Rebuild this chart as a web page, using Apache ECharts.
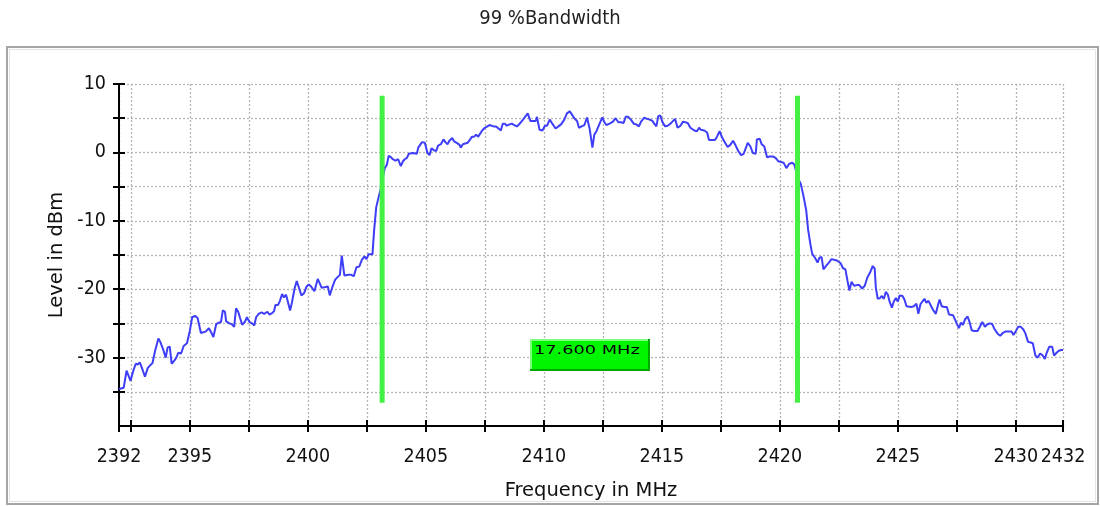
<!DOCTYPE html>
<html><head><meta charset="utf-8">
<script src="https://cdn.jsdelivr.net/npm/echarts@6/dist/echarts.min.js"></script>
<style>html,body{margin:0;padding:0;background:#fff}#c{width:1100px;height:506px}</style>
</head><body><div id="c"></div>
<script>
const freq = [
2392.0,2392.2,2392.32,2392.4,2392.49,2392.6,2392.71,2392.8,2392.88,2392.99,2393.1,2393.22,2393.33,2393.42,2393.53,2393.67,2393.75,2393.87,2393.98,2394.06,2394.15,2394.23,2394.35,2394.43,2394.51,2394.63,2394.74,2394.88,2395.0,2395.1,2395.22,2395.33,2395.47,2395.67,2395.81,2395.92,2396.0,2396.12,2396.23,2396.32,2396.4,2396.49,2396.54,2396.68,2396.77,2396.88,2396.96,2397.05,2397.13,2397.22,2397.33,2397.42,2397.53,2397.64,2397.73,2397.81,2397.92,2398.04,2398.15,2398.2,2398.29,2398.37,2398.49,2398.57,2398.63,2398.74,2398.82,2398.91,2398.99,2399.08,2399.16,2399.25,2399.33,2399.44,2399.53,2399.61,2399.73,2399.84,2399.95,2400.04,
2400.14,2400.28,2400.42,2400.59,2400.71,2400.85,2400.93,2401.05,2401.16,2401.36,2401.44,2401.55,2401.72,2401.84,2401.95,2402.06,2402.18,2402.29,2402.4,2402.49,2402.57,2402.74,
2402.81,2402.9,2403.01,2403.09,2403.18,2403.26,2403.35,2403.43,2403.52,2403.6,2403.71,2403.83,2403.94,2404.03,2404.11,2404.2,2404.28,2404.36,2404.45,2404.53,2404.62,2404.68,2404.76,2404.84,2404.96,2405.01,2405.07,2405.16,2405.24,2405.35,2405.44,2405.52,2405.64,2405.75,2405.83,2405.92,2406.0,2406.12,2406.2,2406.31,2406.43,2406.48,2406.57,2406.65,2406.77,2406.88,2406.96,2407.05,2407.13,2407.22,2407.3,2407.39,2407.5,2407.61,2407.7,2407.78,2407.87,2407.98,2408.06,2408.18,2408.26,2408.35,2408.43,2408.55,
2408.64,2408.75,2408.86,2408.98,2409.12,2409.2,2409.32,2409.43,2409.54,2409.66,2409.71,2409.82,2409.94,2410.05,2410.14,2410.25,2410.36,2410.5,2410.62,2410.73,2410.87,2410.98,2411.1,2411.18,2411.29,2411.41,2411.49,2411.6,2411.72,2411.83,2411.94,2412.06,2412.14,2412.23,2412.31,2412.4,2412.48,2412.57,2412.65,2412.79,2412.93,2413.04,2413.16,2413.27,2413.38,2413.47,2413.58,2413.69,2413.81,2413.92,2414.03,2414.12,2414.26,2414.37,2414.49,2414.6,2414.68,2414.77,2414.85,2414.94,2415.02,2415.14,2415.25,2415.36,2415.45,2415.56,2415.67,2415.79,2415.9,2415.98,2416.1,2416.21,2416.38,2416.49,2416.58,2416.66,2416.8,2416.92,2417.0,2417.14,2417.25,2417.34,2417.45,2417.54,2417.65,2417.79,2417.9,2418.02,2418.13,2418.24,2418.36,2418.47,2418.64,2418.75,2418.86,2418.98,2419.03,2419.15,2419.23,2419.34,2419.46,2419.57,2419.71,2419.82,2419.94,2420.05,2420.16,2420.28,2420.39,2420.53,2420.62,2420.76,
2420.89,2421.01,2421.12,2421.2,2421.29,2421.37,2421.49,2421.6,2421.68,2421.77,2421.85,2421.96,2422.08,2422.19,2422.3,2422.42,2422.5,2422.58,2422.67,2422.78,2422.87,2422.95,2423.04,2423.15,2423.26,2423.37,2423.49,2423.6,2423.71,2423.82,2423.94,2424.02,
2424.07,2424.15,2424.24,2424.32,2424.41,2424.49,2424.58,2424.66,2424.75,2424.83,2424.92,2425.0,2425.08,2425.2,2425.28,2425.37,2425.45,2425.56,2425.68,2425.79,2425.87,2425.96,2426.04,2426.13,2426.21,2426.3,2426.38,2426.49,2426.61,2426.69,2426.77,2426.86,2426.97,2427.08,2427.17,2427.25,2427.34,2427.42,2427.51,2427.59,2427.68,2427.76,2427.85,2427.96,2428.04,2428.13,2428.24,2428.38,2428.46,2428.58,2428.69,2428.77,2428.89,2429.0,2429.11,2429.23,2429.34,2429.45,2429.56,2429.7,2429.82,2429.9,2429.99,2430.1,2430.21,2430.32,2430.41,2430.52,2430.63,2430.72,2430.83,2430.92,2431.03,2431.14,2431.23,2431.31,2431.42,2431.54,2431.62,2431.73,2431.82,2431.93,2432.0
];
const level = [
-34.6,-34.4,-31.9,-31.7,-33.4,-32.0,-30.9,-31.0,-30.7,-31.7,-32.8,-31.5,-31.1,-30.8,-29.0,-27.2,-27.7,-28.8,-30.0,-28.5,-28.4,-30.9,-30.4,-30.0,-29.3,-29.4,-28.3,-27.9,-26.1,-24.1,-23.9,-24.2,-26.4,-26.2,-25.7,-26.4,-27.0,-25.1,-24.9,-24.8,-23.1,-23.3,-24.7,-25.0,-25.1,-25.5,-22.8,-23.3,-24.2,-25.2,-24.8,-24.1,-24.8,-25.0,-25.3,-24.1,-23.6,-23.4,-23.6,-23.8,-23.3,-23.7,-23.5,-23.2,-22.3,-22.3,-21.7,-20.7,-21.2,-20.8,-21.0,-23.1,-21.9,-19.9,-18.8,-18.9,-20.9,-20.6,-19.6,-19.3,
-19.6,-20.3,-18.5,-19.8,-19.7,-19.6,-20.9,-19.6,-18.6,-17.9,-15.1,-18.0,-17.9,-17.9,-18.1,-16.8,-16.7,-15.7,-15.2,-15.6,-14.9,-14.9,
-11.4,-8.0,-6.4,-5.4,-3.7,-2.3,-1.8,-0.5,-0.7,-1.0,-1.2,-1.0,-2.0,-1.3,-1.0,-0.8,-0.2,-0.4,-0.1,0.1,-0.2,0.7,1.1,1.5,1.4,1.4,-0.1,-0.4,0.6,0.3,0.2,1.0,1.2,1.9,1.5,1.2,1.7,2.1,1.6,1.4,1.1,0.7,1.2,1.0,1.4,1.9,2.3,2.3,2.6,2.3,2.4,3.2,3.6,3.8,4.0,3.8,3.8,3.8,3.8,3.2,4.2,4.2,3.9,4.1,
4.2,4.0,3.8,4.2,4.8,4.7,5.7,4.6,4.6,4.6,5.2,3.3,3.2,3.9,3.9,4.8,4.2,3.5,3.8,4.1,4.8,5.7,6.0,5.6,5.0,4.6,3.6,3.8,4.0,5.1,3.5,0.7,2.6,3.1,3.3,4.5,5.1,4.4,4.0,4.2,4.5,5.0,4.4,4.4,4.3,5.2,5.2,4.8,4.2,4.1,3.8,4.5,5.1,4.9,4.8,4.6,4.2,3.8,5.3,5.4,4.5,3.8,3.9,4.2,4.5,4.9,3.6,3.9,4.5,4.6,4.3,3.6,3.2,3.1,3.6,3.3,3.2,2.9,1.8,1.8,1.8,2.3,3.1,2.3,1.6,0.8,1.1,1.7,1.0,0.2,-0.4,-0.2,1.4,0.9,-0.1,-0.2,1.9,2.0,1.2,0.9,-0.7,-0.6,-0.6,-0.8,-1.3,-1.4,-1.5,-2.3,-1.7,-1.5,-1.8,-3.7,
-4.6,-6.5,-8.5,-11.3,-13.3,-14.8,-15.4,-16.1,-15.4,-15.3,-17.1,-16.6,-16.1,-15.6,-15.7,-15.8,-15.6,-16.2,-16.9,-17.1,-18.8,-20.2,-18.9,-19.5,-19.4,-19.4,-19.9,-19.5,-18.3,-17.6,-16.6,-17.0,
-19.8,-21.4,-21.3,-21.0,-21.4,-20.4,-20.8,-21.9,-22.7,-21.8,-21.3,-21.8,-20.9,-21.0,-21.5,-22.5,-22.3,-22.6,-22.5,-22.1,-23.6,-22.2,-21.8,-21.4,-22.0,-21.7,-21.9,-23.0,-23.6,-22.5,-21.5,-22.5,-22.6,-22.6,-23.7,-23.5,-23.8,-24.4,-25.1,-25.7,-24.9,-25.2,-24.4,-24.0,-24.8,-26.0,-26.1,-26.1,-25.6,-24.8,-25.5,-25.2,-25.0,-25.1,-25.9,-26.5,-26.8,-26.4,-26.2,-26.2,-26.2,-26.7,-26.2,-25.5,-25.5,-25.9,-26.5,-27.7,-27.8,-27.9,-29.7,-30.0,-29.4,-29.7,-30.2,-29.3,-28.4,-28.4,-29.7,-29.3,-29.0,-28.9,-28.9
];
const markerFreqs = [2403.15, 2420.75];
const markerRange = [8.3, -36.6];
const bandwidthText = '17.600 MHz';
const bandwidthBoxLevel = -29.6;
const xTickValues = [2392,2392.5,2395,2397.5,2400,2402.5,2405,2407.5,2410,2412.5,2415,2417.5,2420,2422.5,2425,2427.5,2430,2432];
const xLabelValues = [2392,2395,2400,2405,2410,2415,2420,2425,2430,2432];
const yTickValues = [-35,-30,-25,-20,-15,-10,-5,0,5,10];
const yLabelValues = [-30,-20,-10,0,10];

const NARROW = "'Liberation Sans Narrow','DejaVu Sans Condensed',sans-serif";
const SANS = "'DejaVu Sans',sans-serif";
const gridStyle = {type:[2,2], color:'#b4b4b4', width:1.3};
const axisBlack = {color:'#000', width:2};
const plain = v => String(v);

const chart = echarts.init(document.getElementById('c'), null, {renderer:'canvas'});
const trace = freq.map((f,i)=>[f, level[i]]);
const markerSeries = markerFreqs.map(f => ({
  type:'line', symbol:'none', silent:true, z:5, animation:false,
  data: markerRange.map(v => [f, v]),
  lineStyle:{color:'#44f044', width:5, cap:'butt'}
}));

chart.setOption({
  animation:false,
  backgroundColor:'#fff',
  title:{text:'99 %Bandwidth', left:'center', top:4,
    textStyle:{fontFamily:NARROW, fontSize:20, fontWeight:'normal', color:'#222'}},
  grid:{left:119, right:37, top:84, bottom:77, containLabel:false},
  xAxis:[
    {type:'value', min:2392, max:2432, position:'bottom',
     axisLine:{show:true, onZero:false, lineStyle:axisBlack},
     axisTick:{show:true, inside:false, length:6, lineStyle:axisBlack, customValues:xTickValues},
     axisLabel:{customValues:xLabelValues, formatter:plain, showMinLabel:true, showMaxLabel:true, hideOverlap:false,
       margin:21, fontFamily:NARROW, fontSize:19.5, color:'#111'},
     splitLine:{show:true, lineStyle:gridStyle},
     name:'Frequency in MHz', nameLocation:'middle', nameGap:55,
     nameTextStyle:{fontFamily:SANS, fontSize:19.5, color:'#111'}},
    {type:'value', min:2392, max:2432, position:'bottom',
     axisLine:{show:false, onZero:false},
     axisTick:{show:true, inside:true, length:6, lineStyle:axisBlack, customValues:xTickValues},
     axisLabel:{show:false}, splitLine:{show:false}}
  ],
  yAxis:[
    {type:'value', min:-40, max:10, interval:5, position:'left',
     axisLine:{show:true, onZero:false, lineStyle:axisBlack},
     axisTick:{show:true, inside:false, length:6, lineStyle:axisBlack, customValues:yTickValues},
     axisLabel:{customValues:yLabelValues, formatter:plain, margin:13, fontFamily:NARROW, fontSize:19.5, color:'#111'},
     splitLine:{show:true, lineStyle:gridStyle},
     name:'Level in dBm', nameLocation:'middle', nameGap:51, nameRotate:90,
     nameTextStyle:{fontFamily:SANS, fontSize:19.5, color:'#111'}},
    {type:'value', min:-40, max:10, interval:5, position:'left',
     axisLine:{show:false, onZero:false},
     axisTick:{show:true, inside:true, length:6, lineStyle:axisBlack, customValues:yTickValues},
     axisLabel:{show:false}, splitLine:{show:false}}
  ],
  series:[
    {type:'line', symbol:'none', data:trace, z:3, silent:true,
     lineStyle:{color:'#3e3ef8', width:2}},
    ...markerSeries
  ]
});

const c = chart.convertToPixel({gridIndex:0}, [(markerFreqs[0]+markerFreqs[1])/2, bandwidthBoxLevel]);
const bw = 120, bh = 32;
const bx = Math.round(c[0] - bw/2), by = Math.round(c[1] - bh/2);
chart.setOption({
  graphic:[
    {type:'rect', shape:{x:7, y:47, width:1091, height:457}, style:{fill:'none', stroke:'#a6a6a6', lineWidth:2}, z:-1, silent:true},
    {type:'rect', shape:{x:9.5, y:49.5, width:1086, height:452}, style:{fill:'none', stroke:'#e4e4e4', lineWidth:1}, z:-1, silent:true},
    {type:'group', z:100, children:[
      {type:'rect', shape:{x:bx, y:by, width:bw, height:bh}, style:{fill:'#00a800'}},
      {type:'rect', shape:{x:bx, y:by, width:bw-2, height:bh-2}, style:{fill:'#7dff7d'}},
      {type:'rect', shape:{x:bx+2, y:by+2, width:bw-4, height:bh-4}, style:{fill:'#00f600'}},
      {type:'text', x:bx+4, y:by+12, scaleX:1.42,
       style:{text:bandwidthText, fontFamily:"'DejaVu Sans',sans-serif", fontSize:12.5, fill:'#000', textVerticalAlign:'middle', textAlign:'left'}}
    ]}
  ]
});
</script></body></html>
